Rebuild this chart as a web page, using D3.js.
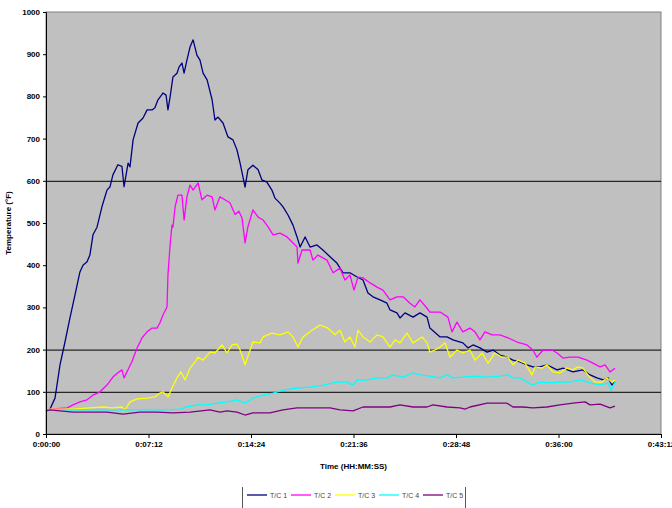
<!DOCTYPE html>
<html>
<head>
<meta charset="utf-8">
<script src="https://cdn.jsdelivr.net/npm/d3@7"></script>
<style>
  body { margin: 0; background: #fff; }
  text { font-family: "Liberation Sans", Arial, sans-serif; }
</style>
</head>
<body>
<div id="chart"></div>
<script>
// series names and colours
const seriesNames = ["T/C 1", "T/C 2", "T/C 3", "T/C 4", "T/C 5"];
const seriesColors = ["#000080", "#ff00ff", "#ffff00", "#00ffff", "#800080"];

// tick values (seconds) and y ticks
const xTicks = [0, 432, 864, 1296, 1728, 2160, 2592];
const yTicks = [0, 100, 200, 300, 400, 500, 600, 700, 800, 900, 1000];
const gridValues = [100, 200, 600];

// [seconds, °F]
const tc1 = [[0,55],[17,59],[38,85],[59,164],[80,218],[101,275],[122,329],[143,384],[156,400],[173,408],[185,424],[198,472],[215,490],[236,539],[257,578],[270,586],[282,614],[303,638],[320,634],[329,586],[346,642],[354,633],[367,697],[388,737],[409,749],[426,768],[447,768],[459,773],[472,792],[493,808],[506,803],[514,768],[523,799],[535,846],[552,855],[561,870],[573,879],[582,855],[594,886],[607,917],[620,934],[636,898],[649,886],[662,855],[679,839],[700,792],[712,744],[725,751],[746,737],[767,704],[788,697],[805,673],[818,642],[839,585],[851,626],[872,637],[894,626],[910,602],[931,597],[952,578],[965,559],[986,547],[999,538],[1020,519],[1041,495],[1058,467],[1071,443],[1092,467],[1113,443],[1142,448],[1167,436],[1197,420],[1226,405],[1252,382],[1281,382],[1311,372],[1336,365],[1357,334],[1378,325],[1408,318],[1437,310],[1450,294],[1479,287],[1492,275],[1513,287],[1547,277],[1576,287],[1606,277],[1618,251],[1661,230],[1690,230],[1715,223],[1757,216],[1779,204],[1800,211],[1829,204],[1859,194],[1884,199],[1913,187],[1943,182],[1968,175],[1998,171],[2027,164],[2052,159],[2082,159],[2111,164],[2154,152],[2179,156],[2221,147],[2263,152],[2293,140],[2322,133],[2348,128],[2369,133],[2385,116],[2398,123]];

const tc2 = [[0,55],[17,59],[89,62],[114,69],[143,76],[173,81],[198,92],[228,100],[257,116],[282,135],[303,145],[320,152],[329,133],[341,147],[362,171],[384,204],[405,228],[426,242],[447,251],[468,251],[480,263],[493,282],[510,301],[514,377],[523,448],[531,495],[535,490],[544,538],[556,566],[573,566],[582,507],[594,562],[607,590],[620,578],[641,595],[657,555],[679,566],[700,562],[712,531],[733,562],[754,555],[775,548],[797,520],[813,528],[826,512],[839,453],[851,491],[872,531],[894,514],[915,507],[936,491],[957,472],[986,476],[1016,467],[1037,455],[1058,443],[1062,405],[1079,436],[1113,436],[1125,412],[1146,424],[1184,412],[1210,382],[1239,393],[1260,365],[1281,377],[1298,341],[1315,372],[1336,370],[1366,358],[1395,348],[1420,341],[1450,318],[1479,325],[1505,325],[1534,310],[1555,301],[1576,318],[1606,298],[1618,289],[1661,289],[1694,277],[1711,242],[1732,265],[1757,242],[1787,251],[1808,242],[1829,223],[1850,242],[1880,235],[1913,235],[1947,228],[1985,218],[2027,211],[2052,199],[2069,182],[2095,199],[2133,199],[2154,192],[2179,180],[2208,182],[2242,182],[2280,175],[2305,168],[2335,159],[2356,164],[2377,147],[2398,156]];

const tc3 = [[0,55],[17,59],[114,59],[185,62],[240,64],[282,62],[320,64],[333,57],[354,76],[384,83],[426,85],[459,88],[480,97],[493,100],[514,88],[531,109],[552,133],[569,147],[586,128],[607,156],[628,171],[641,182],[662,175],[691,194],[712,192],[742,211],[763,192],[784,211],[805,213],[818,199],[839,164],[860,199],[872,218],[902,216],[915,230],[952,239],[986,235],[1020,242],[1041,230],[1062,206],[1083,230],[1121,246],[1155,258],[1188,251],[1218,235],[1239,246],[1260,218],[1281,230],[1302,206],[1315,246],[1336,230],[1366,218],[1395,235],[1420,230],[1450,206],[1471,223],[1492,216],[1521,239],[1547,216],[1585,230],[1606,216],[1618,194],[1639,199],[1661,206],[1682,216],[1703,182],[1732,199],[1757,192],[1787,199],[1808,175],[1838,192],[1863,168],[1892,192],[1922,182],[1947,182],[1968,164],[1989,175],[2019,168],[2048,140],[2061,159],[2090,156],[2111,164],[2137,147],[2166,145],[2196,156],[2221,152],[2242,159],[2263,156],[2284,140],[2314,123],[2343,123],[2364,133],[2385,123],[2398,128]];

const tc4 = [[0,55],[17,57],[329,57],[396,57],[510,57],[565,59],[594,64],[636,69],[679,69],[721,73],[763,76],[805,81],[839,73],[872,85],[915,92],[957,97],[999,104],[1058,109],[1113,111],[1167,116],[1226,123],[1269,123],[1294,116],[1311,128],[1353,128],[1395,133],[1437,133],[1462,140],[1505,135],[1547,145],[1576,140],[1618,137],[1661,133],[1690,140],[1715,133],[1757,135],[1800,137],[1859,135],[1913,137],[1947,140],[1968,133],[1998,133],[2048,116],[2082,123],[2124,121],[2166,123],[2208,123],[2251,128],[2293,121],[2335,116],[2369,121],[2381,104],[2398,123]];

const tc5 = [[0,55],[17,57],[59,55],[114,52],[185,52],[257,52],[325,47],[396,52],[468,52],[535,50],[607,52],[691,57],[733,52],[763,55],[805,52],[839,45],[872,50],[944,50],[999,57],[1058,62],[1125,62],[1197,62],[1239,57],[1294,55],[1336,64],[1395,64],[1450,64],[1492,69],[1547,64],[1606,64],[1631,69],[1690,64],[1745,62],[1766,59],[1787,64],[1859,73],[1943,73],[1968,64],[2010,64],[2052,62],[2111,64],[2166,69],[2221,73],[2272,76],[2293,69],[2335,71],[2377,62],[2398,66]];

const seriesData = [tc1, tc2, tc3, tc4, tc5];

const width = 672, height = 508;
const margin = {left: 46, right: 11, top: 12, bottom: 74};
const plotW = width - margin.left - margin.right;
const plotH = height - margin.top - margin.bottom;

const svg = d3.select("#chart").append("svg")
  .attr("width", width)
  .attr("height", height);

const g = svg.append("g")
  .attr("transform", `translate(${margin.left},${margin.top})`);

const x = d3.scaleLinear().domain([0, 2592]).range([0, plotW]);
const y = d3.scaleLinear().domain([0, 1000]).range([plotH, 0]);

// plot area
g.append("rect")
  .attr("width", plotW)
  .attr("height", plotH)
  .attr("fill", "#c0c0c0")
  .attr("stroke", "#808080")
  .attr("stroke-width", 1);

// grid lines
g.selectAll(".grid")
  .data(gridValues)
  .join("line")
  .attr("x1", 0).attr("x2", plotW)
  .attr("y1", d => y(d) + 0.5).attr("y2", d => y(d) + 0.5)
  .attr("stroke", "#000")
  .attr("stroke-width", 1);

// lines
const line = d3.line()
  .x(d => x(d[0]))
  .y(d => y(d[1]));

g.selectAll(".series")
  .data(seriesData)
  .join("path")
  .attr("d", line)
  .attr("fill", "none")
  .attr("stroke", (d, i) => seriesColors[i])
  .attr("stroke-width", 1.3)
  .attr("stroke-linejoin", "round");

// axes
const fmtTime = s => {
  const h = Math.floor(s / 3600), m = Math.floor((s % 3600) / 60), sec = s % 60;
  return `${h}:${String(m).padStart(2, "0")}:${String(sec).padStart(2, "0")}`;
};

const xAxis = g.append("g")
  .attr("transform", `translate(0,${plotH})`)
  .call(d3.axisBottom(x).tickValues(xTicks).tickFormat(fmtTime).tickSize(4).tickPadding(3));

const yAxis = g.append("g")
  .call(d3.axisLeft(y).tickValues(yTicks).tickFormat(d3.format("d")).tickSize(3).tickPadding(3));

[xAxis, yAxis].forEach(a => {
  a.select(".domain").attr("stroke", "#000");
  a.selectAll(".tick line").attr("stroke", "#000");
  a.selectAll("text")
    .style("font-size", "8px")
    .style("font-weight", "bold")
    .attr("fill", "#000");
});

// axis titles
svg.append("text")
  .attr("x", margin.left + plotW / 2)
  .attr("y", 469)
  .attr("text-anchor", "middle")
  .style("font-size", "8px")
  .style("font-weight", "bold")
  .text("Time (HH:MM:SS)");

svg.append("text")
  .attr("transform", `translate(11,${margin.top + plotH / 2}) rotate(-90)`)
  .attr("text-anchor", "middle")
  .style("font-size", "8px")
  .style("font-weight", "bold")
  .text("Temperature (°F)");

// legend
const legend = svg.append("g").attr("transform", "translate(242,487)");
legend.append("line").attr("x1", 0.5).attr("x2", 0.5).attr("y1", 0).attr("y2", 21).attr("stroke", "#555");
legend.append("line").attr("x1", 223.5).attr("x2", 223.5).attr("y1", 0).attr("y2", 21).attr("stroke", "#555");

const item = legend.selectAll(".item")
  .data(seriesNames)
  .join("g")
  .attr("transform", (d, i) => `translate(${5 + i * 44},8)`);

item.append("line")
  .attr("x1", 0).attr("x2", 20)
  .attr("stroke", (d, i) => seriesColors[i])
  .attr("stroke-width", 1.3);

item.append("text")
  .attr("x", 23)
  .attr("y", 2.5)
  .style("font-size", "7px")
  .attr("fill", "#444")
  .text(d => d);
</script>
</body>
</html>
